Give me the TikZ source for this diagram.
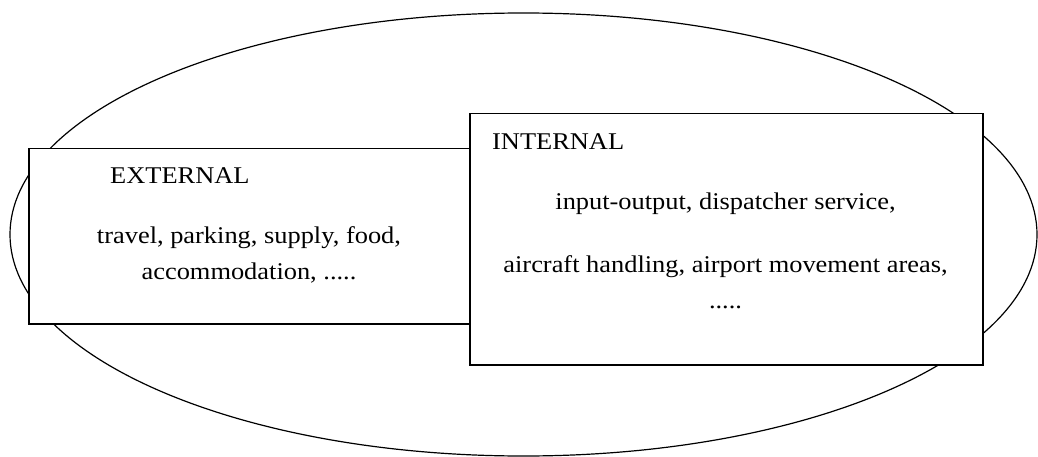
\documentclass[tikz,border=0pt]{standalone}
\usepackage{fontspec}
\usetikzlibrary{shapes.geometric}
\setmainfont{Liberation Serif}[FakeStretch=1.1]
\begin{document}
\begin{tikzpicture}[x=1pt,y=-1pt,
  panel/.style={draw=black,line width=1.5pt,fill=white,rectangle,anchor=north west,inner sep=0pt},
  lbl/.style={inner sep=0pt,font=\fontsize{24}{28}\selectfont},
  outer/.style={draw=black,line width=1.2pt}]
\useasboundingbox (0,0) rectangle (1038,457);
\node[outer,ellipse,minimum width=1027pt,minimum height=443pt,inner sep=0pt] (oval) at (523.5,234.5) {};
\node[panel,minimum width=441pt,minimum height=175pt] (ext) at (28,148) {};
\node[panel,minimum width=513pt,minimum height=251pt] (int) at (469,113) {};
\node[lbl,anchor=base west] (exttitle) at (110,183) {EXTERNAL};
\node[lbl,anchor=base] (ext1) at (249,243) {travel, parking, supply, food,};
\node[lbl,anchor=base] (ext2) at (249,279) {accommodation, .....};
\node[lbl,anchor=base west] (inttitle) at (492,150) {INTERNAL};
\node[lbl,anchor=base] (int1) at (725.5,210) {input-output, dispatcher service,};
\node[lbl,anchor=base] (int2) at (725.5,272) {aircraft handling, airport movement areas,};
\node[lbl,anchor=base] (int3) at (725.5,308) {.....};
\end{tikzpicture}
\end{document}
